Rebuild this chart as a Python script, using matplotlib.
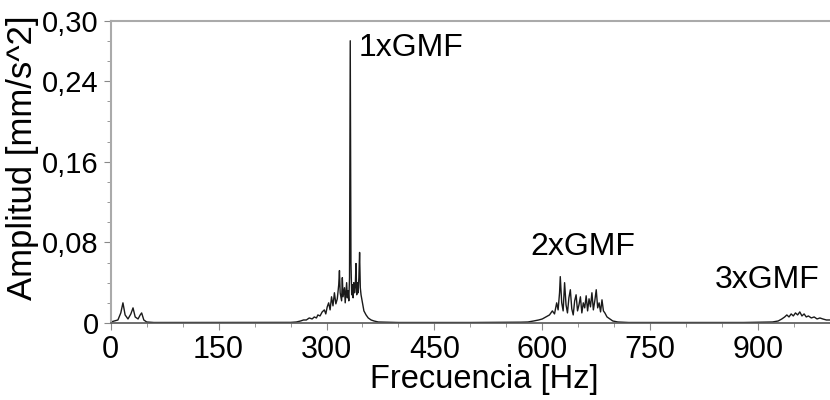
import matplotlib
matplotlib.use("Agg")
import matplotlib.pyplot as plt
from matplotlib.ticker import FixedLocator, MultipleLocator

plt.rcParams['font.family'] = ['Liberation Sans', 'DejaVu Sans']

# spectrum (Hz, mm/s^2)
freq_low = [0, 5, 10, 14, 17, 20, 24, 28, 31, 34, 38, 41, 43, 46, 50, 60,
            100, 150, 200, 250]
amp_low = [0.001, 0.002, 0.003, 0.010, 0.020, 0.008, 0.004, 0.009, 0.015, 0.006,
           0.004, 0.008, 0.010, 0.003, 0.001, 0.0005,
           0.0005, 0.0005, 0.0005, 0.0006]

freq_1x = [258, 264, 268, 272, 276, 280, 283, 286, 288, 291, 294, 297, 299, 301,
           303, 305, 307, 309, 311, 313, 315, 317, 318, 319, 321, 322, 323, 325,
           326, 328, 329, 330, 331, 332, 333, 334, 335, 336, 337, 338, 339, 340,
           341, 342, 343, 344, 345, 346, 347, 348, 350, 352, 355, 358, 362, 366,
           372]
amp_1x = [0.001, 0.002, 0.003, 0.003, 0.005, 0.004, 0.006, 0.005, 0.008, 0.007,
          0.011, 0.013, 0.009, 0.016, 0.020, 0.013, 0.026, 0.017, 0.030, 0.019,
          0.024, 0.038, 0.052, 0.030, 0.022, 0.045, 0.026, 0.035, 0.020, 0.040,
          0.025, 0.032, 0.022, 0.045, 0.280, 0.060, 0.028, 0.038, 0.025, 0.040,
          0.030, 0.036, 0.059, 0.028, 0.040, 0.030, 0.045, 0.070, 0.035, 0.028,
          0.020, 0.012, 0.008, 0.005, 0.003, 0.002, 0.001]

freq_2x = [400, 500, 570, 580, 588, 595, 600, 605, 610, 614, 617, 620, 622, 624,
           625, 627, 629, 631, 633, 635, 637, 639, 641, 643, 645, 647, 649, 651,
           653, 655, 657, 659, 661, 663, 665, 667, 669, 671, 673, 675, 677, 679,
           681, 683, 685, 687, 690, 694, 698, 705, 720]
amp_2x = [0.0005, 0.0005, 0.0008, 0.001, 0.002, 0.003, 0.004, 0.006, 0.008, 0.012,
          0.009, 0.020, 0.013, 0.030, 0.046, 0.020, 0.012, 0.040, 0.018, 0.010,
          0.025, 0.033, 0.014, 0.008, 0.022, 0.028, 0.012, 0.018, 0.026, 0.010,
          0.020, 0.015, 0.027, 0.012, 0.024, 0.016, 0.030, 0.013, 0.022, 0.033,
          0.015, 0.020, 0.011, 0.023, 0.012, 0.010, 0.006, 0.004, 0.002, 0.001,
          0.0005]

freq_3x = [800, 880, 920, 928, 933, 937, 940, 943, 946, 949, 952, 955, 958, 961,
           964, 967, 970, 974, 978, 982, 986, 990, 995, 1000]
amp_3x = [0.0005, 0.0005, 0.001, 0.002, 0.004, 0.006, 0.008, 0.006, 0.009, 0.007,
          0.010, 0.008, 0.011, 0.007, 0.009, 0.006, 0.007, 0.005, 0.006, 0.004,
          0.005, 0.004, 0.003, 0.003]

freq = freq_low + freq_1x + freq_2x + freq_3x
amp = amp_low + amp_1x + amp_2x + amp_3x

x_ticks = [0, 150, 300, 450, 600, 750, 900]
y_ticks = [0, 0.08, 0.16, 0.24, 0.30]
y_labels = ['0', '0,08', '0,16', '0,24', '0,30']

fig = plt.figure(figsize=(8.3, 4.0), dpi=100)
ax = fig.add_axes([0.1334, 0.1925, 0.8666, 0.756])

ax.plot(freq, amp, color='#1a1a1a', lw=1.0)

ax.set_xlim(0, 1000)
ax.set_ylim(0, 0.30)

ax.xaxis.set_major_locator(FixedLocator(x_ticks))
ax.xaxis.set_minor_locator(MultipleLocator(50))
ax.yaxis.set_major_locator(FixedLocator(y_ticks))
ax.yaxis.set_minor_locator(MultipleLocator(0.02))
ax.set_yticklabels(y_labels)

ax.tick_params(which='both', direction='out', color='#888888')
ax.tick_params(axis='x', labelsize=22)
ax.tick_params(axis='y', labelsize=21)
ax.tick_params(which='major', length=5)
ax.tick_params(which='minor', length=3)

ax.spines['right'].set_visible(False)
for s in ['left', 'top']:
    ax.spines[s].set_color('#aaaaaa')
    ax.spines[s].set_linewidth(1.5)
ax.spines['bottom'].set_color('#555555')
ax.spines['bottom'].set_linewidth(1.2)

ax.set_xlabel('Frecuencia [Hz]', fontsize=23.5)
ax.set_ylabel('Amplitud [mm/s^2]', fontsize=25)
ax.xaxis.set_label_coords(0.52, -0.135)
ax.yaxis.set_label_coords(-0.10, 0.548)

ax.text(418, 0.273, '1xGMF', fontsize=23, ha='center', va='center')
ax.text(657, 0.075, '2xGMF', fontsize=23, ha='center', va='center')
ax.text(913, 0.0426, '3xGMF', fontsize=23, ha='center', va='center')

fig.savefig('out.png', dpi=100)
